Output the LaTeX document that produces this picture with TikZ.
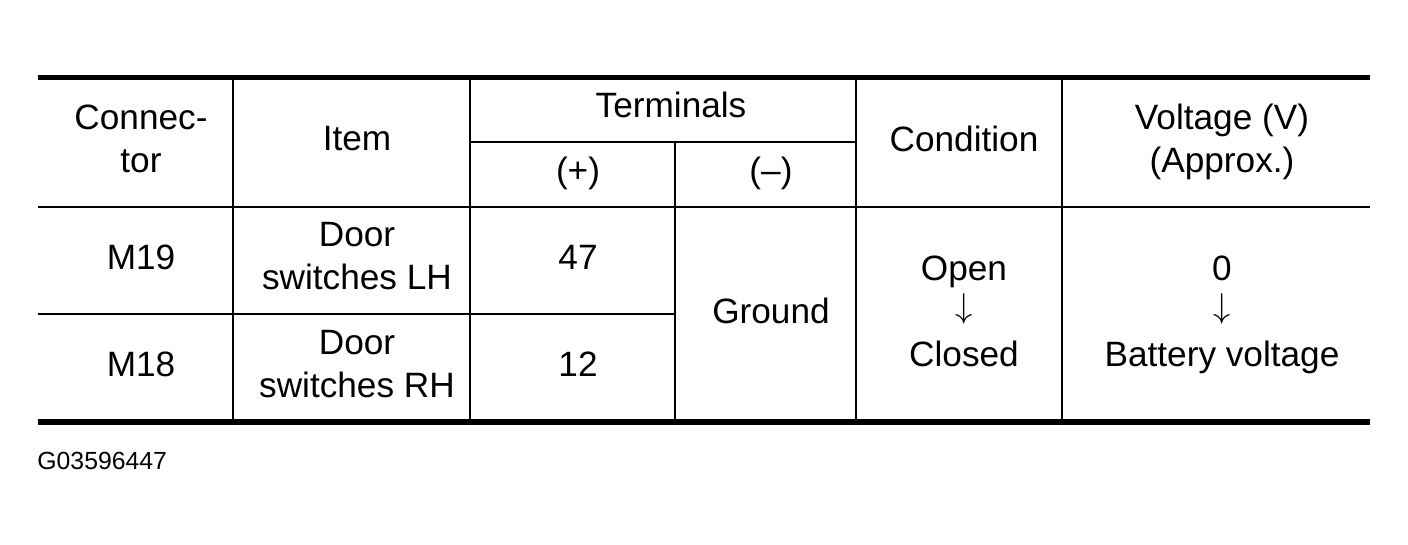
\documentclass[tikz,border=0pt]{standalone}
\usepackage{fontspec}
\setmainfont{Liberation Sans}
\newcommand{\dnarrow}{\raisebox{3pt}{$\downarrow$}}
\begin{document}
\begin{tikzpicture}[x=0.5pt,y=-0.5pt,
  cell/.style={font=\fontsize{17.6}{21.5}\selectfont, align=center, inner sep=0pt, anchor=center},
  thickrule/.style={line width=2.75pt},
  thinrule/.style={line width=0.9pt}]
\useasboundingbox (0,0) rectangle (1408,545);
% rules
\draw[thickrule] (38,77.5) -- (1370,77.5);
\draw[thickrule] (38,422) -- (1370,422);
\draw[thinrule] (38,207) -- (1370,207);
\draw[thinrule] (38,314) -- (675,314);
\draw[thinrule] (470,142) -- (856,142);
\foreach \x in {233,470,856,1062} \draw[thinrule] (\x,79) -- (\x,420);
\draw[thinrule] (675,142) -- (675,420);
% header
\node[cell] (hconn) at (141,138.5) {Connec-\\tor};
\node[cell] (hitem) at (357,139) {Item};
\node[cell] (hterm) at (671,105) {Terminals};
\node[cell] (hplus) at (578,173) {(+)};
\node[cell] (hminus) at (771,173) {(–)};
\node[cell] (hcond) at (964,139) {Condition};
\node[cell] (hvolt) at (1222,138.5) {Voltage (V)\\\smash{(Approx.)}};
% rows
\node[cell] (m19) at (141,257) {M19};
\node[cell] (lh) at (357,256.5) {Door\\switches LH};
\node[cell] (t47) at (578,257) {47};
\node[cell] (m18) at (141,364) {M18};
\node[cell] (rh) at (357,364.5) {Door\\switches RH};
\node[cell] (t12) at (578,364) {12};
\node[cell] (gnd) at (771,311) {Ground};
\node[cell] (cond) at (964,311) {Open\\\dnarrow\\Closed};
\node[cell] (volt) at (1222,311) {0\\\dnarrow\\\smash{Battery voltage}};
% code
\node[font=\fontsize{12.4}{14}\selectfont, inner sep=0pt, anchor=west] (code) at (37,461) {G03596447};
\end{tikzpicture}
\end{document}
